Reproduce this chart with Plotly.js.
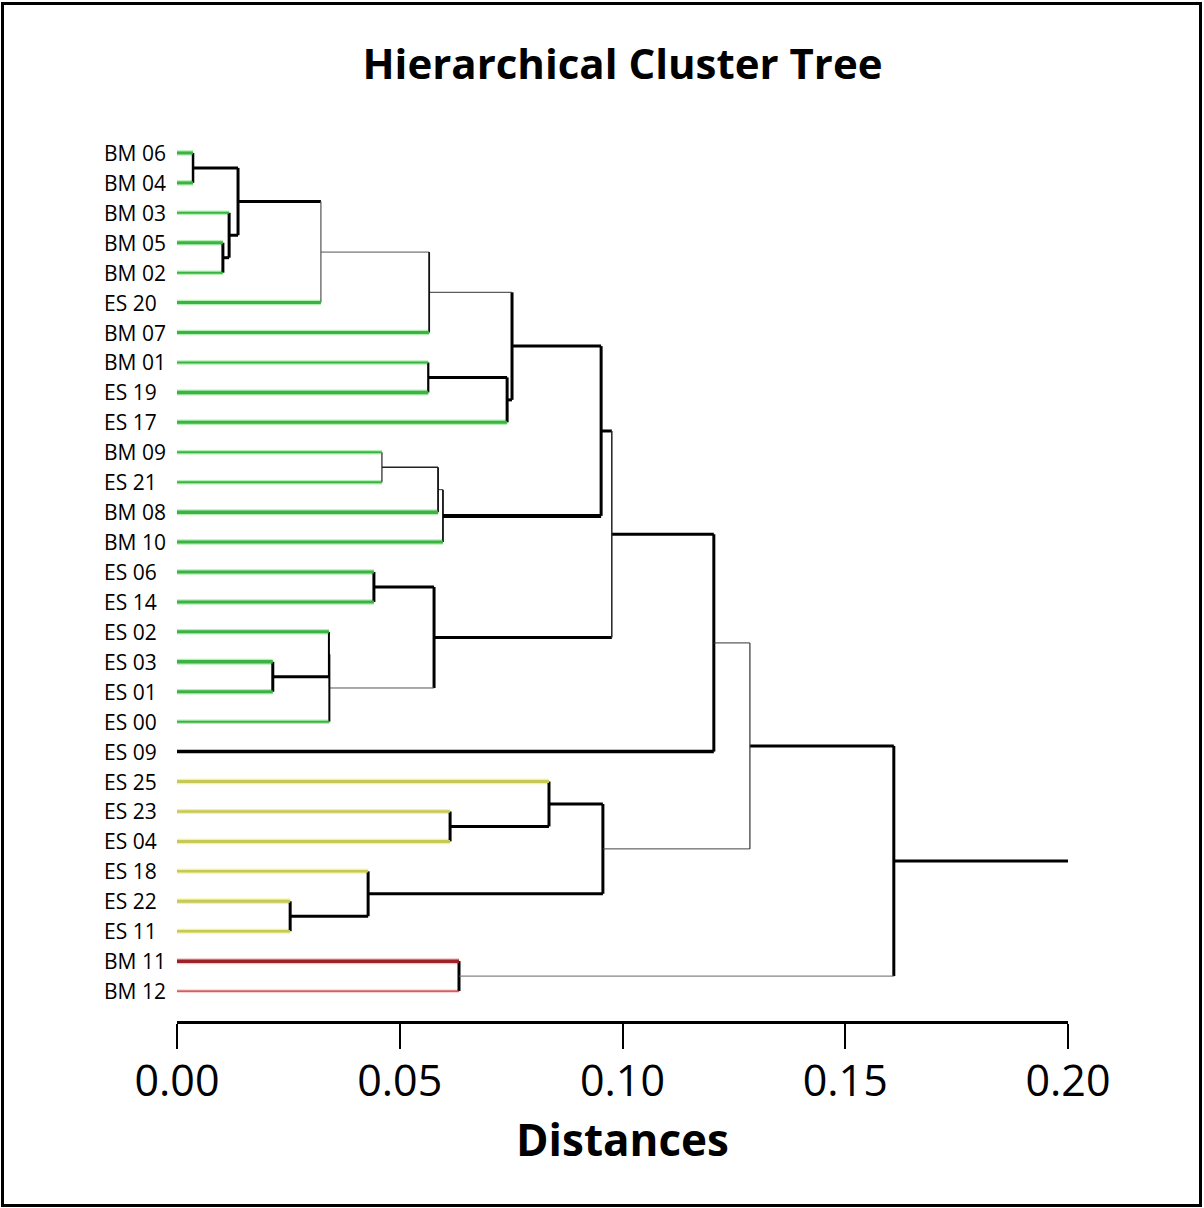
<!DOCTYPE html>
<html>
<head>
<meta charset="utf-8">
<script src="https://cdn.plot.ly/plotly-3.0.1.min.js"></script>
<style>
  html, body { margin: 0; padding: 0; background: #fff; }
  #chart { position: absolute; left: 0; top: 0; width: 1204px; height: 1208px; }
  #frame { position: absolute; left: 1px; top: 2px; width: 1201px; height: 1205px;
           border: 3px solid #000; box-sizing: border-box; pointer-events: none; }
</style>
</head>
<body>
<div id="chart"></div>
<div id="frame"></div>
<script>
// ---- Data ----
const leaves = ["BM 06","BM 04","BM 03","BM 05","BM 02","ES 20","BM 07","BM 01","ES 19","ES 17",
                "BM 09","ES 21","BM 08","BM 10","ES 06","ES 14","ES 02","ES 03","ES 01","ES 00",
                "ES 09","ES 25","ES 23","ES 04","ES 18","ES 22","ES 11","BM 11","BM 12"];

// merges: [child A, child B, distance]; children are leaf names or "m<k>"
const mergeA = ["BM 06","BM 05","BM 03","m0","m3","m4","BM 01","m6","m5","BM 09","m9","m10","m8",
                "ES 06","ES 03","ES 02","m15","m13","m12","m18","ES 23","ES 25","ES 22","ES 18","m21","m19","BM 11","m25"];
const mergeB = ["BM 04","BM 02","m1","m2","ES 20","BM 07","ES 19","ES 17","m7","ES 21","BM 08","BM 10","m11",
                "ES 14","ES 01","m14","ES 00","m16","m17","ES 09","ES 04","m20","ES 11","m22","m23","m24","BM 12","m26"];
const mergeDist = [0.0036,0.0103,0.0117,0.0137,0.0323,0.0566,0.0564,0.0741,0.0752,0.0460,0.0586,0.0597,0.0952,
                   0.0442,0.0215,0.0341,0.0342,0.0577,0.0976,0.1205,0.0613,0.0835,0.0254,0.0429,0.0956,0.1286,0.0633,0.1609];
const rootTail = 0.20;

const xTicks = [0, 0.05, 0.10, 0.15, 0.20];
const xTickText = ["0.00","0.05","0.10","0.15","0.20"];

// ---- Styles (separate from data) ----
const hW = [3,3,3,3,1,1,3,3,3,1.5,1,4,3,3,3,2,1,3,3,1,3,3,3,3,1,3,1,3];
const hC = ["#000","#000","#000","#000","#555","#333","#000","#000","#000","#222","#333","#000","#000",
            "#000","#000","#000","#555","#000","#000","#333","#000","#000","#000","#000","#444","#000","#666","#000"];
const vW = [2.5,3,3,3,1.2,1.8,2.2,3,3,1.2,1.8,1.8,3,3,3,2,2,3,1.5,3,3,3,3,3,3,1.2,3,3];
const vC = ["#000","#000","#000","#000","#555","#111","#000","#000","#000","#222","#111","#111","#000",
            "#000","#000","#000","#000","#000","#222","#000","#000","#000","#000","#000","#000","#333","#000","#000"];

const G = "#3cb245", GH = "#b4f0b4", Y = "#c6c958", YH = "#f4f496";
const leafCore = [G,G,G,G,G,G,G,G,G,G,G,G,G,G,G,G,G,G,G,G,"#000",Y,Y,Y,Y,Y,Y,"#9a2228","#c0393b"];
const leafHalo = [GH,GH,GH,GH,GH,GH,GH,GH,GH,GH,GH,GH,GH,GH,GH,GH,GH,GH,GH,GH,null,YH,YH,YH,YH,YH,YH,"#f2c4c4","#ffd2d2"];
const leafCoreW = [3,3,2,3,2,3,3,2,3.5,3,2,2,3.5,3,3,3,3,3.5,3,2,3.5,3,2.5,3,2.5,3,2.5,3.5,1.2];

// ---- Build tree geometry through data ----
const nodeY = {}, nodeX = {};
leaves.forEach((l, i) => { nodeY[l] = i; nodeX[l] = 0; });
mergeDist.forEach((d, k) => {
  nodeY["m" + k] = (nodeY[mergeA[k]] + nodeY[mergeB[k]]) / 2;
  nodeX["m" + k] = d;
});

const groups = {};
function seg(x0, y0, x1, y1, color, width) {
  const key = color + "|" + width;
  if (!groups[key]) groups[key] = { x: [], y: [], color, width };
  groups[key].x.push(x0, x1, null);
  groups[key].y.push(y0, y1, null);
}
function parentOf(id) { let k = mergeA.indexOf(id); if (k < 0) k = mergeB.indexOf(id); return k; }

// leaf halos first
leaves.forEach((l, i) => {
  const px = mergeDist[parentOf(l)];
  if (leafHalo[i]) seg(0, i, px, i, leafHalo[i], leafCoreW[i] + 2.5);
});
// internal connectors
mergeDist.forEach((d, k) => {
  const id = "m" + k;
  const p = parentOf(id);
  const parentX = p >= 0 ? mergeDist[p] : rootTail;
  if (parentX > d) seg(d, nodeY[id], parentX, nodeY[id], hC[k], hW[k]);
  seg(d, nodeY[mergeA[k]], d, nodeY[mergeB[k]], vC[k], vW[k]);
});
// leaf cores
leaves.forEach((l, i) => {
  seg(0, i, mergeDist[parentOf(l)], i, leafCore[i], leafCoreW[i]);
});

const traces = Object.keys(groups).map(key => ({
  type: "scatter", mode: "lines", x: groups[key].x, y: groups[key].y,
  line: { color: groups[key].color, width: groups[key].width },
  hoverinfo: "skip", showlegend: false, connectgaps: false
}));

const annotations = leaves.map((l, i) => ({
  xref: "paper", yref: "y", x: 0, y: i, xanchor: "left", xshift: -75, yanchor: "middle",
  text: l, showarrow: false, align: "left",
  font: { family: "Open Sans, sans-serif", size: 21, color: "#000" }
}));

const layout = {
  width: 1204, height: 1208,
  margin: { l: 177, r: 136, t: 123, b: 187 },
  paper_bgcolor: "#fff", plot_bgcolor: "#fff",
  title: {
    text: "Hierarchical Cluster Tree", xref: "paper", x: 0.5, xanchor: "center",
    yref: "container", y: 1 - 64 / 1208, yanchor: "middle",
    font: { family: "Open Sans, sans-serif", size: 42, color: "#000", weight: 700 }
  },
  xaxis: {
    range: [0, 0.2], tickvals: xTicks, ticktext: xTickText,
    showgrid: false, zeroline: false, showline: true, linewidth: 3, linecolor: "#000",
    ticks: "outside", ticklen: 25, tickwidth: 2, tickcolor: "#000",
    ticklabelstandoff: -5,
    tickfont: { family: "Open Sans, sans-serif", size: 43, color: "#000" },
    title: { text: "Distances", standoff: 2,
             font: { family: "Open Sans, sans-serif", size: 44, color: "#000", weight: 700 } },
    fixedrange: true
  },
  yaxis: {
    range: [29, -1], showgrid: false, zeroline: false, showline: false,
    showticklabels: false, ticks: "", fixedrange: true
  },
  annotations: annotations
};

Plotly.newPlot("chart", traces, layout, { staticPlot: true, displayModeBar: false });
</script>
</body>
</html>
